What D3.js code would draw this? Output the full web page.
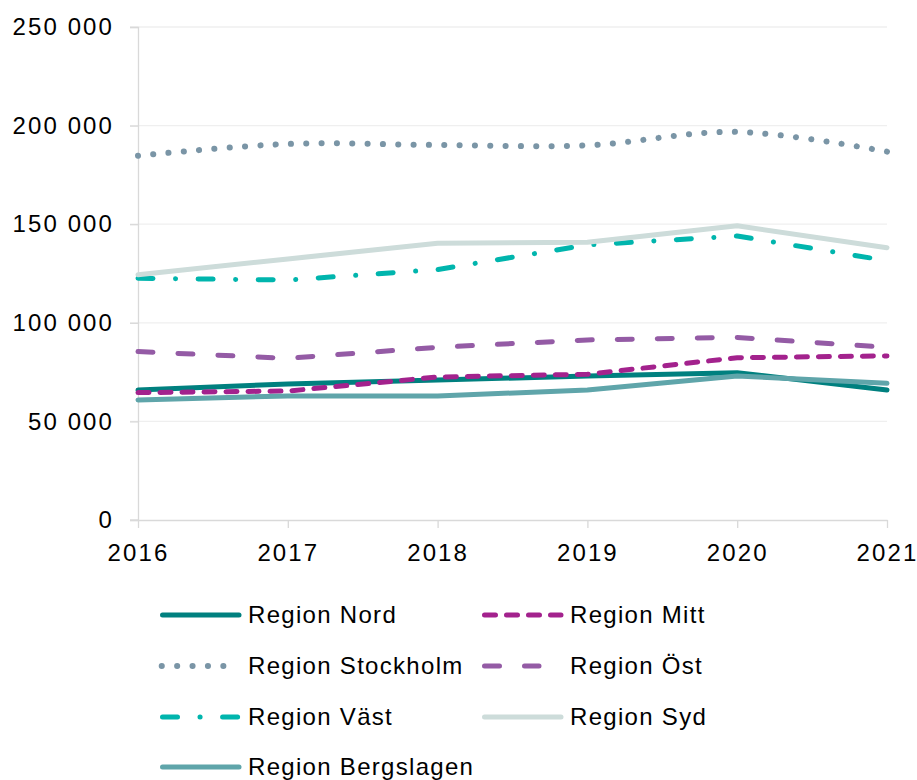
<!DOCTYPE html>
<html>
<head>
<meta charset="utf-8">
<script src="https://cdn.jsdelivr.net/npm/d3@7"></script>
<style>
body { margin: 0; background: #fff; }
text { font-family: "Liberation Sans", Arial, sans-serif; font-size: 24px; fill: #000; letter-spacing: 1.3px; }
.tick text { letter-spacing: 2.1px; }
</style>
</head>
<body>
<svg id="chart" width="917" height="780"></svg>
<script>
// values
var years = [2016, 2017, 2018, 2019, 2020, 2021];
var yTicks = [0, 50000, 100000, 150000, 200000, 250000];

var nord       = [65900, 69000, 71000, 73000, 74700, 65900];
var mitt       = [64600, 65400, 72500, 73900, 82300, 83200];
var stockholm  = [184700, 190700, 190200, 190000, 196800, 186800];
var ost        = [85400, 82000, 87600, 91300, 92600, 87600];
var vast       = [122600, 121700, 127000, 139500, 144000, 131500];
var syd        = [124400, 132400, 140300, 140800, 149200, 138100];
var bergslagen = [60900, 62900, 62900, 65900, 73000, 69300];

var series = [
  { name: "Region Nord", values: nord, color: "#00807f", dash: null },
  { name: "Region Mitt", values: mitt, color: "#a3228d", dash: "11 11" },
  { name: "Region Stockholm", values: stockholm, color: "#7a95a6", dash: "0.1 15.3", width: 6, smooth: true },
  { name: "Region Öst", values: ost, color: "#945ba5", dash: "15 25" },
  { name: "Region Väst", values: vast, color: "#00b5ad", dash: "15 22.5 0.1 22.5" },
  { name: "Region Syd", values: syd, color: "#cddcda", dash: null },
  { name: "Region Bergslagen", values: bergslagen, color: "#5fa5aa", dash: null }
];

var svg = d3.select("#chart");
var x = d3.scaleLinear().domain([2016, 2021]).range([138, 887]);
var y = d3.scaleLinear().domain([0, 250000]).range([520, 27]);
var fmt = d3.formatLocale({ decimal: ",", thousands: " ", grouping: [3], currency: ["", ""] }).format(",d");

// grid
svg.append("g").selectAll("line")
    .data(yTicks.filter(function(d) { return d > 0; }))
  .enter().append("line")
    .attr("x1", 130).attr("x2", 887)
    .attr("y1", function(d) { return y(d); }).attr("y2", function(d) { return y(d); })
    .attr("stroke", "#efefef").attr("stroke-width", 1.3);

// y axis
var yAxis = svg.append("g").attr("transform", "translate(138,0)")
    .call(d3.axisLeft(y).tickValues(yTicks).tickFormat(fmt).tickSize(8).tickPadding(16));
yAxis.select(".domain").attr("stroke", "#d9d9d9").attr("stroke-width", 1.3);
yAxis.selectAll(".tick line").attr("stroke", "#d9d9d9").attr("stroke-width", 1.3);
yAxis.selectAll("text").attr("font-size", null).attr("font-family", null);

// x axis
var xAxis = svg.append("g").attr("transform", "translate(0,520)")
    .call(d3.axisBottom(x).tickValues(years).tickFormat(d3.format("d")).tickSizeInner(8).tickSizeOuter(0).tickPadding(16));
xAxis.select(".domain").attr("stroke", "#d9d9d9").attr("stroke-width", 1.3);
xAxis.selectAll(".tick line").attr("stroke", "#d9d9d9").attr("stroke-width", 1.3);
xAxis.selectAll("text").attr("font-size", null).attr("font-family", null);
svg.append("line").attr("x1", 130).attr("x2", 138).attr("y1", 520).attr("y2", 520)
    .attr("stroke", "#d9d9d9").attr("stroke-width", 1.3);

// lines
series.forEach(function(s) {
  var line = d3.line()
      .x(function(d, i) { return x(years[i]); })
      .y(function(d) { return y(d); })
      .curve(s.smooth ? d3.curveCatmullRom.alpha(0.5) : d3.curveLinear);
  var p = svg.append("path")
      .datum(s.values)
      .attr("d", line)
      .attr("fill", "none")
      .attr("stroke", s.color)
      .attr("stroke-width", s.width || 5)
      .attr("stroke-linecap", "round")
      .attr("stroke-linejoin", "round")
      .attr("stroke-dasharray", s.dash);
  if (s.smooth) {
    // stretch the dot gap so the last dot lands on the end point
    var len = p.node().getTotalLength() - 0.2;
    var n = Math.round(len / 15.3);
    p.attr("stroke-dasharray", "0.1 " + (len / n - 0.1));
  }
});

// legend
var legX = [160, 482], legTextX = [248, 570], legY = [615, 666, 717, 767];
var leg = svg.selectAll("g.legend")
    .data(series)
  .enter().append("g")
    .attr("transform", function(d, i) { return "translate(" + legX[i % 2] + "," + legY[Math.floor(i / 2)] + ")"; });
leg.append("line")
    .attr("x1", function(d) { return d.smooth ? 1.7 : 2.5; })
    .attr("x2", function(d) { return d.smooth ? 64 : (d.dash === "15 25" ? 57 : 79); })
    .attr("y1", 0).attr("y2", 0)
    .attr("stroke", function(d) { return d.color; })
    .attr("stroke-width", function(d) { return d.width || 5; })
    .attr("stroke-linecap", "round")
    .attr("stroke-dasharray", function(d) { return d.dash; });
leg.append("text")
    .attr("x", function(d, i) { return legTextX[i % 2] - legX[i % 2]; })
    .attr("dy", "0.35em")
    .text(function(d) { return d.name; });
</script>
</body>
</html>
